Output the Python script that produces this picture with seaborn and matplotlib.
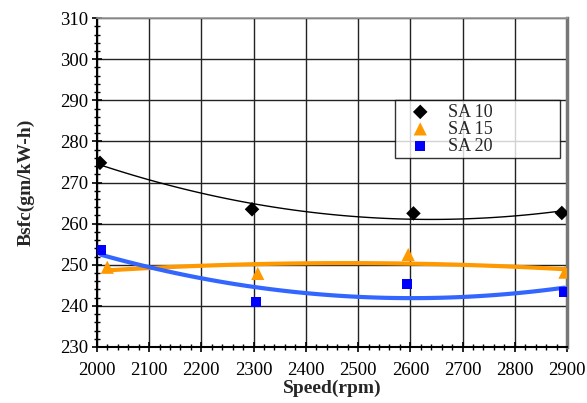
import matplotlib
matplotlib.use("Agg")
import matplotlib.pyplot as plt
import seaborn as sns
import pandas as pd
from matplotlib.ticker import MultipleLocator

# Brake specific fuel consumption vs engine speed for three spark advance settings
series_names = ["SA 10", "SA 15", "SA 20"]
sa10_speed = [2006, 2297, 2606, 2890]
sa10_bsfc = [274.8, 263.5, 262.5, 262.6]
sa15_speed = [2020, 2308, 2596, 2896]
sa15_bsfc = [249.4, 247.9, 252.5, 248.2]
sa20_speed = [2008, 2304, 2593, 2895]
sa20_bsfc = [253.6, 241.0, 245.4, 243.3]

x_ticks = [2000, 2100, 2200, 2300, 2400, 2500, 2600, 2700, 2800, 2900]
y_ticks = [230, 240, 250, 260, 270, 280, 290, 300, 310]

frames = []
for name, xs, ys in zip(series_names,
                        [sa10_speed, sa15_speed, sa20_speed],
                        [sa10_bsfc, sa15_bsfc, sa20_bsfc]):
    frames.append(pd.DataFrame({"Speed": xs, "Bsfc": ys, "Series": name}))
df = pd.concat(frames, ignore_index=True)

sns.set_theme(style="white")
plt.rcParams["font.family"] = ["Liberation Serif", "DejaVu Serif"]

fig = plt.figure(figsize=(5.87, 4.03), dpi=100)
ax = fig.add_axes([0.165, 0.139, 0.801, 0.816])

marker_colors = {"SA 10": "#000000", "SA 15": "#FF9900", "SA 20": "#0000FF"}
line_styles = {"SA 10": ("#000000", 1.0), "SA 15": ("#FF9900", 3.0), "SA 20": ("#3366FF", 3.0)}
markers = {"SA 10": "D", "SA 15": "^", "SA 20": "s"}
sizes = {"SA 10": 55, "SA 15": 90, "SA 20": 55}

# Second-order trend lines
for name in series_names:
    sub = df[df["Series"] == name]
    color, lw = line_styles[name]
    sns.regplot(data=sub, x="Speed", y="Bsfc", order=2, ci=None, scatter=False,
                truncate=True, ax=ax, line_kws={"color": color, "lw": lw, "zorder": 3})

# Measured points
for name in series_names:
    sub = df[df["Series"] == name]
    ax.scatter(sub["Speed"], sub["Bsfc"], marker=markers[name], s=sizes[name],
               color=marker_colors[name], edgecolors="none", zorder=5, label=name)

ax.set_xlim(2000, 2900)
ax.set_ylim(230, 310)
ax.set_xticks(x_ticks)
ax.set_yticks(y_ticks)
ax.xaxis.set_minor_locator(MultipleLocator(20))
ax.yaxis.set_minor_locator(MultipleLocator(2))
ax.tick_params(axis="both", which="major", direction="inout", length=7, width=1.2,
               colors="black", labelsize=13.5, pad=3, bottom=True, left=True)
ax.tick_params(axis="both", which="minor", direction="inout", length=4, width=1.0,
               colors="black", bottom=True, left=True)
ax.tick_params(axis="x", which="major", pad=7)

ax.grid(True, which="major", color="#222222", lw=1.0)
ax.set_axisbelow(True)

for side in ["left", "bottom"]:
    ax.spines[side].set_color("black")
    ax.spines[side].set_linewidth(1.5)
ax.spines["top"].set_color("#999999")
ax.spines["top"].set_linewidth(1.2)
ax.spines["right"].set_color("#777777")
ax.spines["right"].set_linewidth(2.5)

ax.set_xlabel("Speed(rpm)", fontsize=14, fontweight="bold", labelpad=1)
ax.set_ylabel("Bsfc(gm/kW-h)", fontsize=14, fontweight="bold", labelpad=18)

leg = ax.legend(loc="upper left", bbox_to_anchor=(0.634, 0.4, 0.351, 0.351),
                mode="expand", frameon=True, fancybox=False, edgecolor="black",
                fontsize=13, handletextpad=0.35, borderpad=0.2, labelspacing=0.0,
                borderaxespad=0, handlelength=2.4)
leg.get_frame().set_linewidth(1.0)
leg.set_zorder(10)

fig.savefig("out.png", dpi=100, facecolor="white")
